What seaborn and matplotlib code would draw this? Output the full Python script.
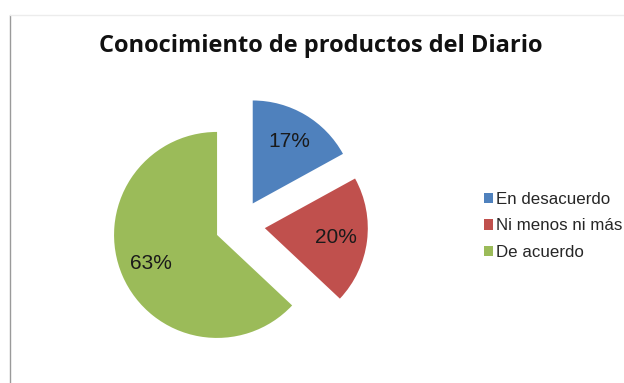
import matplotlib
matplotlib.use("Agg")
import matplotlib.pyplot as plt
from matplotlib.lines import Line2D
import seaborn as sns

# Survey shares
categories = ["En desacuerdo", "Ni menos ni más", "De acuerdo"]
shares = [17, 20, 63]
title = "Conocimiento de productos del Diario"

sns.set_theme(style="white")
colors = sns.color_palette(["#4F81BD", "#C0504D", "#9BBB59"])
plt.rcParams["font.family"] = ["Liberation Sans", "DejaVu Sans"]

W, H = 624, 383
fig = plt.figure(figsize=(W / 100, H / 100), dpi=100)
ax = fig.add_axes([0, 0, 1, 1])

# pixel-like data space (y up)
radius = 103
wedges, texts, autotexts = ax.pie(
    shares,
    colors=colors,
    startangle=90,
    counterclock=False,
    center=(240, H - 225),
    radius=radius,
    explode=[25, 25, 25],
    autopct=lambda p: f"{p:.0f}%",
    pctdistance=0.7,
    textprops=dict(fontsize=15, color="#1a1a1a"),
    wedgeprops=dict(linewidth=0),
)
ax.set_xlim(0, W)
ax.set_ylim(0, H)
ax.set_aspect("auto")
ax.axis("off")

ax.text(321, H - 46, title, ha="center", va="center", fontsize=17,
        fontweight="bold", family=["Open Sans", "DejaVu Sans"], color="#111111")

ax.legend(wedges, categories, loc="center left",
          bbox_to_anchor=(484 / W, (H - 226) / H), frameon=False,
          fontsize=12.2, handlelength=0.55, handleheight=0.55,
          handletextpad=0.15, labelspacing=0.68, borderpad=0,
          borderaxespad=0)

# chart-area border
fig.add_artist(Line2D([10 / W, 10 / W], [0, 1 - 15 / H], color="#9a9a9a", lw=1.0,
                      transform=fig.transFigure))
fig.add_artist(Line2D([10 / W, 1], [1 - 15 / H, 1 - 15 / H], color="#ececec", lw=1.0,
                      transform=fig.transFigure))

fig.savefig("out.png", dpi=100)
